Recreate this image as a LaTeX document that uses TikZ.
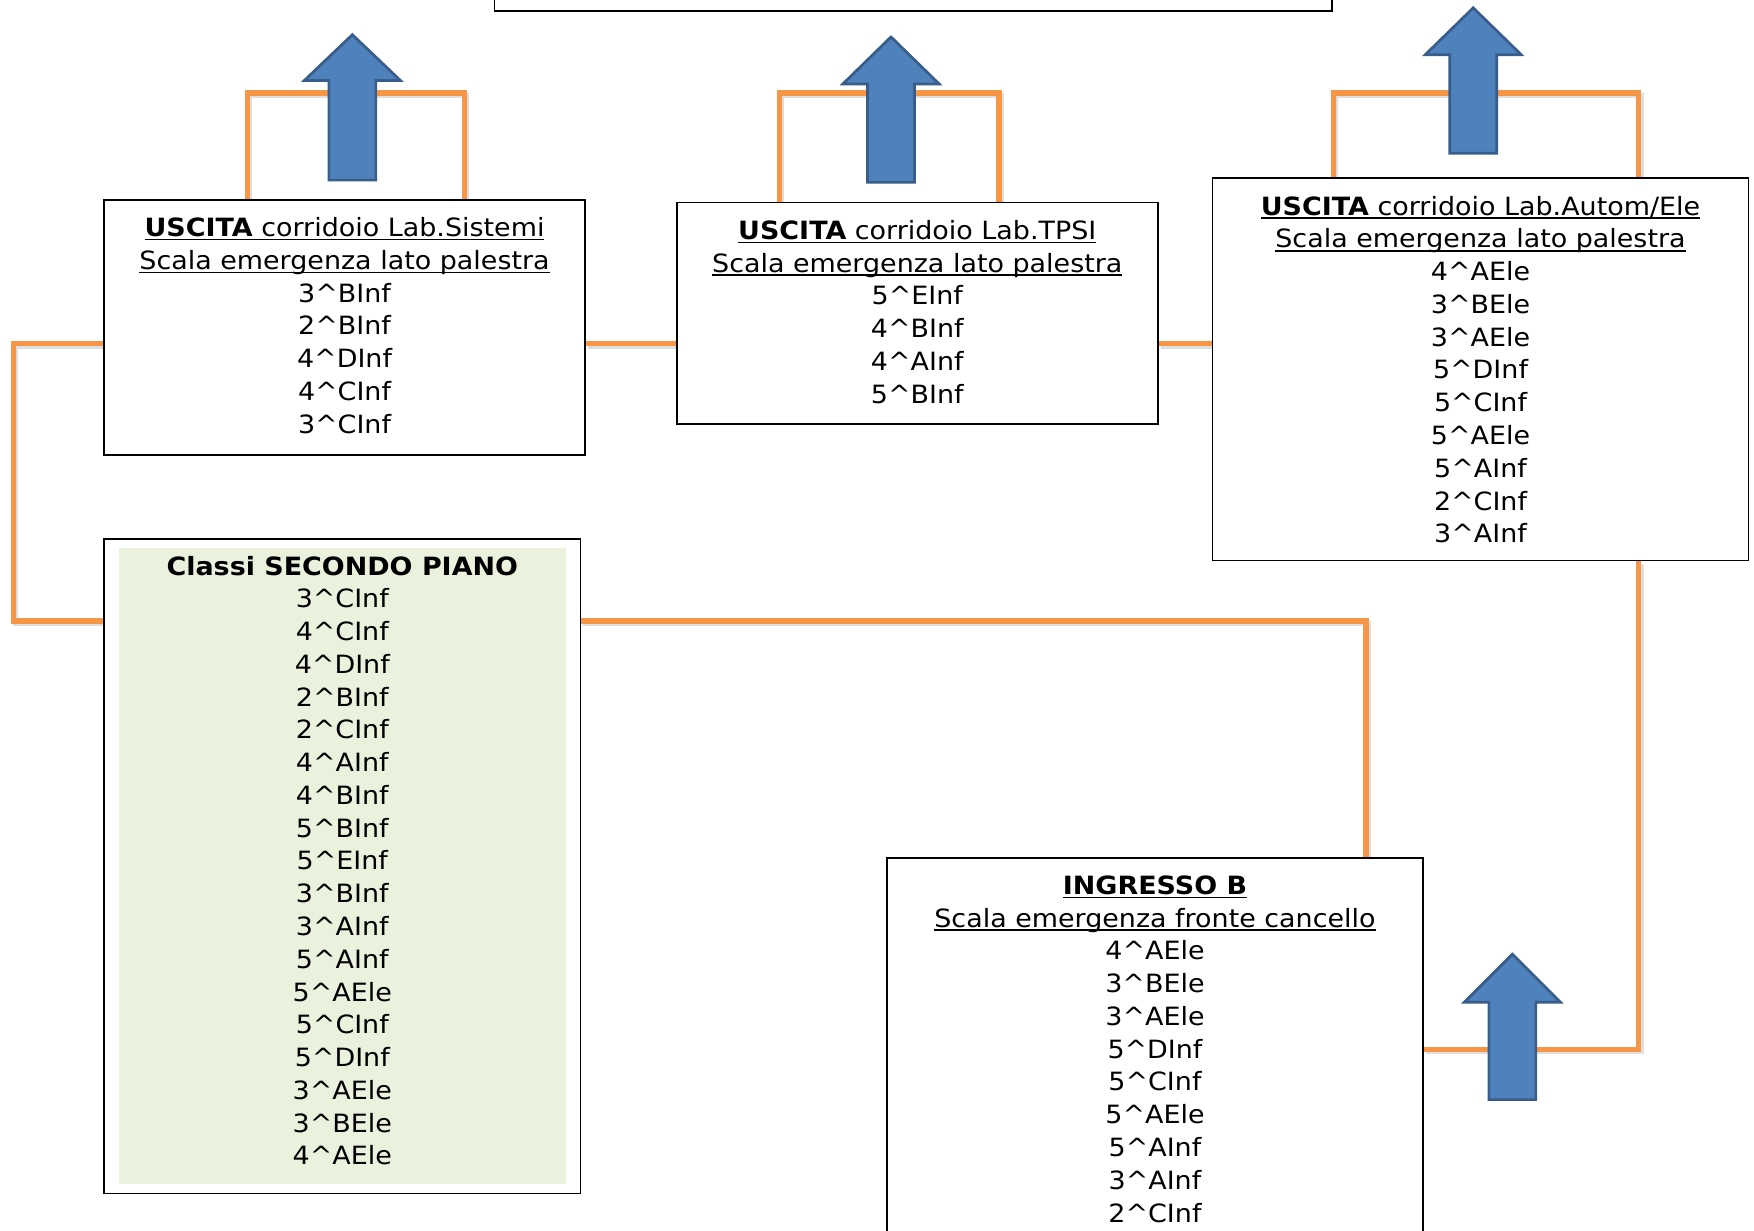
\documentclass[tikz,border=0pt]{standalone}
\usepackage{fontspec}
\setmainfont[FakeStretch=1.07]{DejaVu Sans}
\usetikzlibrary{fit}
\definecolor{orng}{RGB}{247,150,70}
\definecolor{bluefill}{RGB}{79,129,189}
\definecolor{blueedge}{RGB}{56,93,138}
\definecolor{greenfill}{RGB}{234,241,221}
\newcommand\ca{\textasciicircum}
\newcommand\ulx[1]{\setbox0=\hbox{#1}\rlap{\rule[-1.7pt]{\wd0}{0.65pt}}\box0}
\newcommand\bluearrow[4]{%
  \draw[barrow] (#1-21,#4) -- (#1-21,#3) -- (#1-43,#3) -- (#1,#2) -- (#1+43,#3) -- (#1+21,#3) -- (#1+21,#4) -- cycle;}
\tikzset{
  boxst/.style={draw=black, line width=0.8pt, fill=white, inner sep=0pt},
  txt/.style={anchor=north, inner sep=0pt, align=center, font=\fontsize{11.25pt}{14.65pt}\selectfont},
  oline/.style={draw=orng, line width=2.4pt, line join=miter,
    preaction={draw=black!13, line width=2.4pt, transform canvas={shift={(0.9pt,-1.1pt)}}}},
  barrow/.style={draw=blueedge, fill=bluefill, line width=1.2pt, line join=miter}
}
\begin{document}
\begin{tikzpicture}[x=0.5pt,y=-0.5pt]
\useasboundingbox (0,0) rectangle (1568,1100);
% reference coordinates
\coordinate (ya) at (0,307);
\coordinate (yb) at (0,555);
\coordinate (yc) at (0,938);
\coordinate (ytop) at (0,83);
\coordinate (xl) at (12,0);
\coordinate (xr) at (1221,0);
\coordinate (xrr) at (1465,0);
\coordinate (la1) at (221,0);
\coordinate (lb1) at (415,0);
\coordinate (la2) at (697,0);
\coordinate (lb2) at (893,0);
\coordinate (la3) at (1192,0);
\coordinate (lb3) at (1465,0);
% boxes
\path (442,-20) coordinate (tp1) (1191,9.5) coordinate (tp2);
\node[boxst, fit={(93,179) (523,407)}] (b1) {};
\node[boxst, fit={(605,181) (1035,379)}] (b2) {};
\node[boxst, fit={(1084,159) (1563,501)}] (b3) {};
\node[boxst, fit={(93,482) (519,1067)}] (b4) {};
\node[boxst, fit={(793,767) (1272,1130)}] (b5) {};
\node[boxst, fit={(tp1) (tp2)}] (b0) {};
% orange connectors
\draw[oline] (b1.west |- ya) -| (xl |- yb) -- (b4.west |- yb);
\draw[oline] (b1.east |- ya) -- (b2.west |- ya);
\draw[oline] (b2.east |- ya) -- (b3.west |- ya);
\draw[oline] (b4.east |- yb) -| (xr |- b5.north);
\draw[oline] (xrr |- b3.south) |- (b5.east |- yc);
\draw[oline] (la1 |- b1.north) |- (lb1 |- ytop) -- (lb1 |- b1.north);
\draw[oline] (la2 |- b2.north) |- (lb2 |- ytop) -- (lb2 |- b2.north);
\draw[oline] (la3 |- b3.north) |- (lb3 |- ytop) -- (lb3 |- b3.north);
% redraw boxes on top of the connectors
\node[boxst, fit={(93,179) (523,407)}] {};
\node[boxst, fit={(605,181) (1035,379)}] {};
\node[boxst, fit={(1084,159) (1563,501)}] {};
\node[boxst, fit={(93,482) (519,1067)}] {};
\node[boxst, fit={(793,767) (1272,1130)}] {};
\fill[greenfill] (106.5,490) rectangle (506,1058.5);
% arrows
\bluearrow{315}{31}{72}{161}
\bluearrow{796.5}{33}{75}{163}
\bluearrow{1317}{7}{49}{137}
\bluearrow{1352}{853}{896}{983}
% texts
\node[txt] (t1) at (308,190.5) {\strut\ulx{\textbf{USCITA} corridoio Lab.Sistemi}\\
  \ulx{Scala emergenza lato palestra}\\
  3\ca BInf\\ 2\ca BInf\\ 4\ca DInf\\ 4\ca CInf\\ 3\ca CInf};
\node[txt] (t2) at (820,193) {\strut\ulx{\textbf{USCITA} corridoio Lab.TPSI}\\
  \ulx{Scala emergenza lato palestra}\\
  5\ca EInf\\ 4\ca BInf\\ 4\ca AInf\\ 5\ca BInf};
\node[txt] (t3) at (1323.5,171.3) {\strut\ulx{\textbf{USCITA} corridoio Lab.Autom/Ele}\\
  \ulx{Scala emergenza lato palestra}\\
  4\ca AEle\\ 3\ca BEle\\ 3\ca AEle\\ 5\ca DInf\\ 5\ca CInf\\ 5\ca AEle\\ 5\ca AInf\\ 2\ca CInf\\ 3\ca AInf};
\node[txt] (t4) at (306,493.1) {\strut\textbf{Classi SECONDO PIANO}\\
  3\ca CInf\\ 4\ca CInf\\ 4\ca DInf\\ 2\ca BInf\\ 2\ca CInf\\ 4\ca AInf\\ 4\ca BInf\\ 5\ca BInf\\ 5\ca EInf\\ 3\ca BInf\\ 3\ca AInf\\ 5\ca AInf\\ 5\ca AEle\\ 5\ca CInf\\ 5\ca DInf\\ 3\ca AEle\\ 3\ca BEle\\ 4\ca AEle};
\node[txt] (t5) at (1032.5,778.5) {\strut\ulx{\textbf{INGRESSO B}}\\
  \ulx{Scala emergenza fronte cancello}\\
  4\ca AEle\\ 3\ca BEle\\ 3\ca AEle\\ 5\ca DInf\\ 5\ca CInf\\ 5\ca AEle\\ 5\ca AInf\\ 3\ca AInf\\ 2\ca CInf};
\end{tikzpicture}
\end{document}
